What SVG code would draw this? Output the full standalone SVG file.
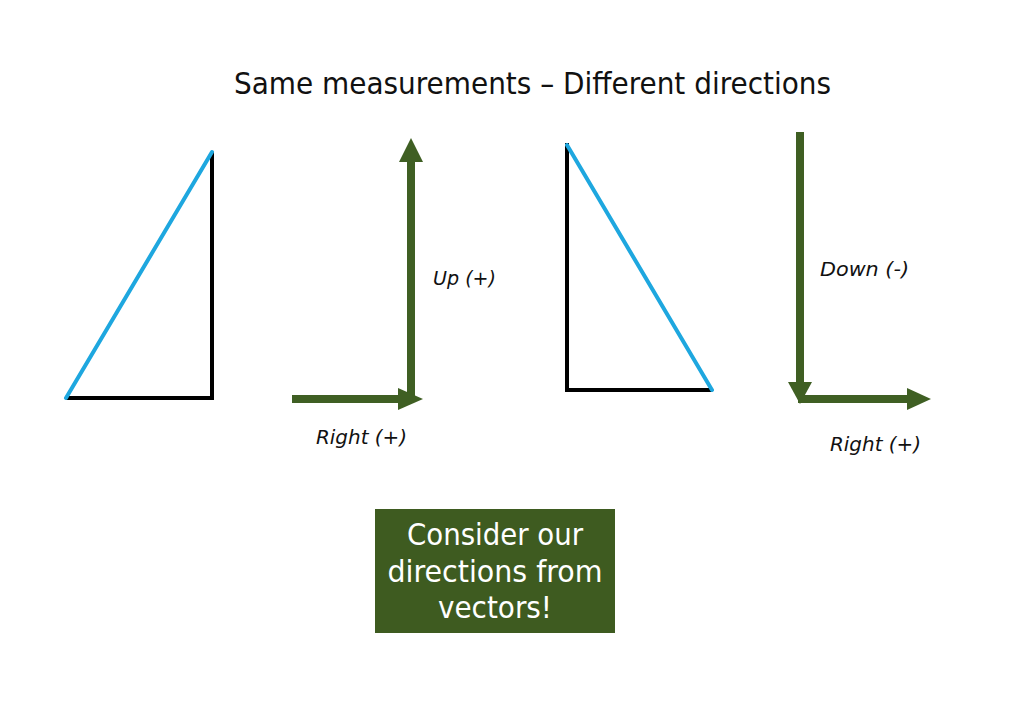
<svg xmlns="http://www.w3.org/2000/svg" width="1024" height="709" viewBox="0 0 1024 709">
<defs>
<style>
.t{font-family:"DejaVu Sans Condensed","DejaVu Sans","Liberation Sans",sans-serif;fill:#111}
.lbl{font-family:"DejaVu Sans Condensed","DejaVu Sans","Liberation Sans",sans-serif;font-style:italic;font-size:20px;fill:#111}
.blk{stroke:#000;stroke-width:4;fill:none}
.hyp{stroke:#1ea7df;stroke-width:4;fill:none;stroke-linecap:round}
.shaft{stroke:#3f5f23;stroke-width:8;fill:none}
.head{fill:#3f5f23}
.box{fill:#3e5b20}
.bt{font-family:"DejaVu Sans Condensed","DejaVu Sans","Liberation Sans",sans-serif;font-size:30px;fill:#fff;text-anchor:middle}
</style>
</defs>
<rect width="1024" height="709" fill="#fff"/>
<g id="title"><text class="t" x="234" y="94" font-size="31" textLength="597" lengthAdjust="spacingAndGlyphs">Same measurements – Different directions</text></g>
<g id="triangle-left">
<polyline class="blk" points="66,398 212,398 212,152"/>
<line class="hyp" x1="66" y1="398" x2="212" y2="152"/>
</g>
<g id="triangle-right">
<polyline class="blk" points="567,143 567,390 712,390"/>
<line class="hyp" x1="567" y1="145" x2="712" y2="390"/>
</g>
<g id="connectors">
<g id="vec-up">
<line class="shaft" x1="411" y1="402" x2="411" y2="160"/>
<polygon class="head" points="411,138 423,162 399,162"/>
</g>
<g id="vec-right-1">
<line class="shaft" x1="292" y1="399" x2="400" y2="399"/>
<polygon class="head" points="423,399 398,388 398,410"/>
</g>
<g id="vec-down">
<line class="shaft" x1="800" y1="132" x2="800" y2="384"/>
<polygon class="head" points="800,404 788,382 812,382"/>
</g>
<g id="vec-right-2">
<line class="shaft" x1="798" y1="399" x2="909" y2="399"/>
<polygon class="head" points="931,399 907,388 907,410"/>
</g>
</g>
<g id="labels">
<text class="lbl" x="433" y="285" textLength="63" lengthAdjust="spacingAndGlyphs">Up (+)</text>
<text class="lbl" x="316" y="444" textLength="91" lengthAdjust="spacingAndGlyphs">Right (+)</text>
<text class="lbl" x="820" y="276" textLength="89" lengthAdjust="spacingAndGlyphs">Down (-)</text>
<text class="lbl" x="830" y="451" textLength="91" lengthAdjust="spacingAndGlyphs">Right (+)</text>
</g>
<g id="note">
<rect class="box" x="375" y="509" width="240" height="124"/>
<text class="bt" x="495" y="545" textLength="176" lengthAdjust="spacingAndGlyphs">Consider our</text>
<text class="bt" x="495" y="582" textLength="215" lengthAdjust="spacingAndGlyphs">directions from</text>
<text class="bt" x="495" y="618" textLength="114" lengthAdjust="spacingAndGlyphs">vectors!</text>
</g>
</svg>
